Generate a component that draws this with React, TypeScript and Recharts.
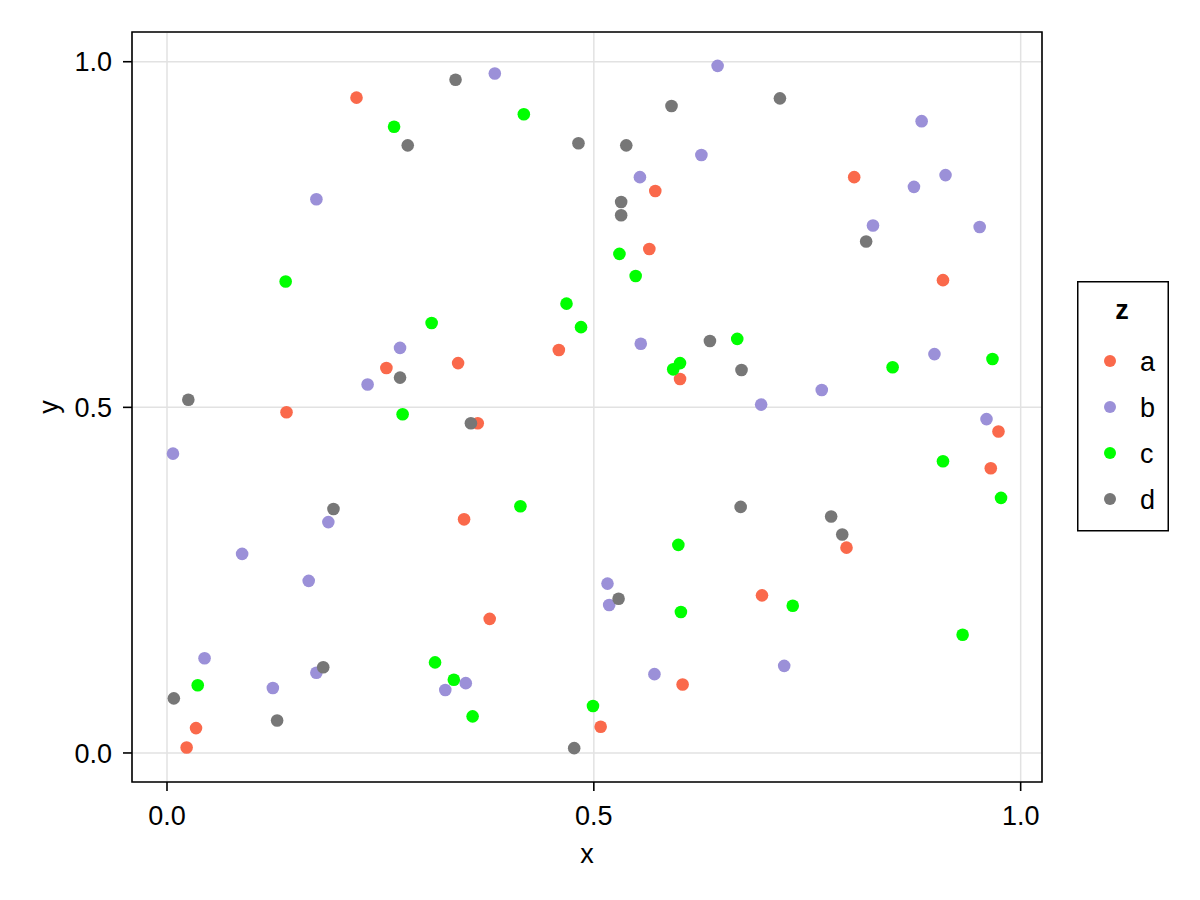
import React from 'react'
import { ScatterChart, Scatter, XAxis, YAxis, CartesianGrid, ReferenceArea, Legend, Label } from 'recharts'

// values, one pair of arrays per group
const aX = [0.222, 0.257, 0.140, 0.341, 0.364, 0.348, 0.378, 0.459, 0.572, 0.565, 0.601, 0.604, 0.508, 0.697, 0.796, 0.805, 0.909, 0.974, 0.965, 0.034, 0.023]
const aY = [0.948, 0.557, 0.493, 0.564, 0.477, 0.338, 0.194, 0.583, 0.813, 0.729, 0.541, 0.099, 0.038, 0.228, 0.297, 0.833, 0.684, 0.465, 0.412, 0.036, 0.008]

const bX = [0.384, 0.645, 0.626, 0.554, 0.175, 0.273, 0.235, 0.555, 0.696, 0.767, 0.899, 0.884, 0.912, 0.875, 0.827, 0.952, 0.960, 0.007, 0.088, 0.189, 0.166, 0.044, 0.124, 0.175, 0.326, 0.350, 0.516, 0.518, 0.571, 0.723]
const bY = [0.983, 0.994, 0.865, 0.833, 0.801, 0.586, 0.533, 0.592, 0.504, 0.525, 0.577, 0.914, 0.836, 0.819, 0.763, 0.761, 0.483, 0.433, 0.288, 0.334, 0.249, 0.137, 0.094, 0.116, 0.091, 0.101, 0.245, 0.214, 0.114, 0.126]

const cX = [0.266, 0.418, 0.139, 0.310, 0.276, 0.468, 0.485, 0.530, 0.549, 0.668, 0.601, 0.593, 0.850, 0.967, 0.909, 0.977, 0.414, 0.599, 0.602, 0.733, 0.932, 0.314, 0.336, 0.358, 0.499, 0.036]
const cY = [0.906, 0.924, 0.682, 0.622, 0.490, 0.650, 0.616, 0.722, 0.690, 0.599, 0.564, 0.555, 0.558, 0.570, 0.422, 0.369, 0.357, 0.301, 0.204, 0.213, 0.171, 0.131, 0.106, 0.053, 0.068, 0.098]

const dX = [0.338, 0.282, 0.482, 0.538, 0.591, 0.718, 0.532, 0.532, 0.819, 0.636, 0.673, 0.273, 0.025, 0.356, 0.195, 0.672, 0.778, 0.791, 0.529, 0.183, 0.129, 0.008, 0.477]
const dY = [0.974, 0.879, 0.882, 0.879, 0.936, 0.947, 0.797, 0.778, 0.740, 0.596, 0.554, 0.543, 0.511, 0.477, 0.353, 0.356, 0.342, 0.316, 0.223, 0.124, 0.047, 0.079, 0.007]

const groups = ['a', 'b', 'c', 'd']
const colors = ['#fa694b', '#9b90d8', '#00ff00', '#777777']
const xTicks = [0, 0.5, 1]
const yTicks = [0, 0.5, 1]
const xDomain = [-0.041, 1.025]
const yDomain = [-0.042, 1.043]

const FONT = '"Liberation Sans", Arial, sans-serif'

const toPoints = (xs: number[], ys: number[]) => xs.map((x, i) => ({ x, y: ys[i] }))
const series = [toPoints(aX, aY), toPoints(bX, bY), toPoints(cX, cY), toPoints(dX, dY)]

const Dot = (props: any) => <circle cx={props.cx} cy={props.cy} r={6.3} fill={props.fill} />

function LegendBox({ payload }: any) {
  const items = payload && payload.length ? payload : groups.map((g, i) => ({ value: g, color: colors[i] }))
  return (
    <svg width={92} height={251} style={{ display: 'block' }}>
      <rect x={0.75} y={0.75} width={90.5} height={249} fill="#fff" stroke="#000" strokeWidth={1.5} />
      <text x={45} y={38} textAnchor="middle" fontFamily={FONT} fontSize={27} fontWeight="bold" fill="#000">z</text>
      {items.map((item: any, i: number) => (
        <g key={item.value}>
          <circle cx={33} cy={80 + i * 46} r={6} fill={item.color} />
          <text x={63} y={90 + i * 46} fontFamily={FONT} fontSize={27} fill="#000">{item.value}</text>
        </g>
      ))}
    </svg>
  )
}

export default function App() {
  const tickStyle = { fontSize: 27, fontFamily: FONT, fill: '#000' }
  const tickLine = { stroke: '#000', strokeWidth: 1.6 }
  return (
    <div style={{ position: 'absolute', left: 0, top: 0, width: 1200, height: 900, background: '#fff' }}>
      <ScatterChart width={1200} height={900} margin={{ top: 32, right: 158, bottom: 0, left: 0 }}>
        <CartesianGrid stroke="#e2e2e2" strokeWidth={1.5} />
        <XAxis
          type="number"
          dataKey="x"
          domain={xDomain}
          allowDataOverflow
          ticks={xTicks}
          tickFormatter={(v: number) => v.toFixed(1)}
          tick={tickStyle}
          tickLine={tickLine}
          tickSize={9}
          tickMargin={15}
          axisLine={false}
          height={118}
        >
          <Label
            content={({ viewBox }: any) => (
              <text x={viewBox.x + viewBox.width / 2} y={viewBox.y + 81} textAnchor="middle" fontFamily={FONT} fontSize={27} fill="#000">x</text>
            )}
          />
        </XAxis>
        <YAxis
          type="number"
          dataKey="y"
          domain={yDomain}
          allowDataOverflow
          ticks={yTicks}
          tickFormatter={(v: number) => v.toFixed(1)}
          tick={tickStyle}
          tickLine={tickLine}
          tickSize={9}
          tickMargin={11}
          axisLine={false}
          width={132}
        >
          <Label
            content={({ viewBox }: any) => {
              const cx = 58
              const cy = viewBox.y + viewBox.height / 2
              return (
                <text x={cx} y={cy} transform={`rotate(-90, ${cx}, ${cy})`} textAnchor="middle" fontFamily={FONT} fontSize={27} fill="#000">y</text>
              )
            }}
          />
        </YAxis>
        <ReferenceArea
          x1={xDomain[0]}
          x2={xDomain[1]}
          y1={yDomain[0]}
          y2={yDomain[1]}
          fill="none"
          fillOpacity={0}
          stroke="#000"
          strokeWidth={1.6}
          ifOverflow="visible"
        />
        {groups.map((g, i) => (
          <Scatter key={g} name={g} data={series[i]} fill={colors[i]} shape={Dot} isAnimationActive={false} />
        ))}
        <Legend
          layout="vertical"
          align="center"
          verticalAlign="middle"
          content={LegendBox}
          wrapperStyle={{ left: 1077, top: 281, width: 92, height: 251 }}
        />
      </ScatterChart>
    </div>
  )
}
